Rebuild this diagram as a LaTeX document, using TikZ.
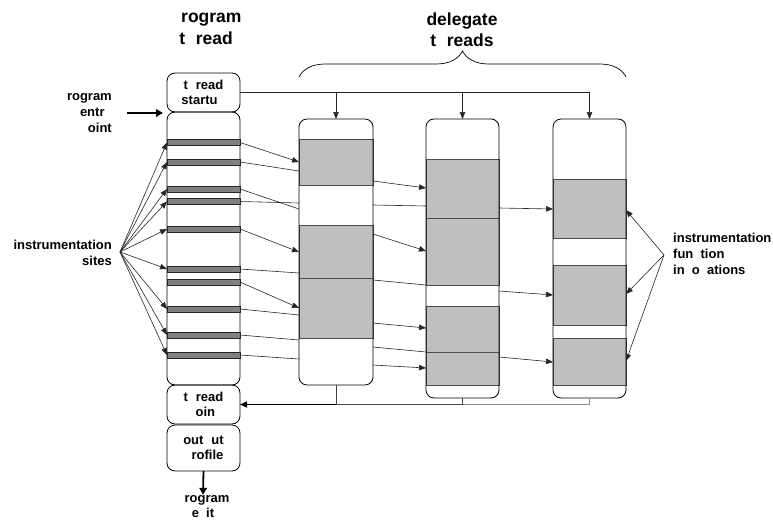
\documentclass[tikz,border=0pt]{standalone}
\usepackage{fontspec}
\setmainfont{Liberation Sans}
\usetikzlibrary{arrows.meta,decorations.pathreplacing}
\newcommand\gapw[1]{\hbox to #1em{}}
\begin{document}
\begin{tikzpicture}[x=1pt,y=-1pt,
  lbl/.style={font=\fontsize{13}{15.8}\selectfont\bfseries, inner sep=0pt},
  ttl/.style={font=\fontsize{17.5}{21.5}\selectfont\bfseries, inner sep=0pt, align=center},
  colbox/.style={draw=black, line width=0.8pt, rounded corners=8pt, minimum width=73pt, inner sep=0pt, outer sep=0pt, align=center, font=\fontsize{13}{15.5}\selectfont\bfseries},
  delbox/.style={draw=black, line width=0.8pt, rounded corners=8pt, inner sep=0pt, outer sep=0pt},
  bar/.style={draw=black!85, fill=black!50, line width=0.6pt, minimum width=73pt, minimum height=6pt, inner sep=0pt, outer sep=0pt},
  seg/.style={fill=black!25, draw=black!70, line width=0.6pt},
  conn/.style={draw=black!85, line width=0.6pt},
  arr/.style={conn, -{Triangle[length=7pt,width=5.5pt]}},
  bigarr/.style={line width=1.8pt, -{Triangle[length=7pt,width=7.5pt]}}
]
\useasboundingbox (0,0) rectangle (773,519);

% titles
\node[ttl] (t1) at (206,29) {\gapw{.611}rogram\\t\gapw{.611}read};
\node[ttl] (t2) at (462,29.5) {delegate\\t\gapw{.611}reads};
\draw[line width=0.7pt, decorate, decoration={brace, amplitude=26pt}] (299,77) -- (626,77);

% gray segments of delegate threads
\draw[seg] (299,139) rectangle (373,185);
\draw[seg] (299,225) rectangle (373,278);
\draw[seg] (299,278) rectangle (373,338);
\draw[seg] (426,159) rectangle (499,218);
\draw[seg] (426,218) rectangle (499,285);
\draw[seg] (426,306) rectangle (499,352);
\draw[seg] (426,352) rectangle (499,385);
\draw[seg] (553,179) rectangle (626,238);
\draw[seg] (553,265) rectangle (626,325);
\draw[seg] (553,338) rectangle (626,385);

% delegate thread columns
\node[delbox, minimum width=74pt, minimum height=266pt] (d1) at (336,252) {};
\node[delbox, minimum width=73pt, minimum height=279pt] (d2) at (462.5,258.5) {};
\node[delbox, minimum width=73pt, minimum height=279pt] (d3) at (589.5,258.5) {};

% program thread column
\node[colbox, minimum height=39pt] (start) at (203.5,92.5) {t\gapw{.611}read\\startu\gapw{.611}};
\node[colbox, minimum height=273pt] (main) at (203.5,248.5) {};
\node[colbox, minimum height=39pt] (join) at (203.5,404.5) {t\gapw{.611}read\\\gapw{.278}oin};
\node[colbox, minimum height=46pt] (prof) at (203.5,448) {out\gapw{.611}ut\\\gapw{.611}rofile};

% instrumentation bars
\node[bar] (b1) at (203.5,142.5) {};
\node[bar] (b2) at (203.5,162) {};
\node[bar] (b3) at (203.5,189) {};
\node[bar] (b4) at (203.5,201.5) {};
\node[bar] (b5) at (203.5,229) {};
\node[bar] (b6) at (203.5,269) {};
\node[bar] (b7) at (203.5,282) {};
\node[bar] (b8) at (203.5,309) {};
\node[bar] (b9) at (203.5,335) {};
\node[bar] (b10) at (203.5,355) {};

% labels
\node[lbl, align=right, anchor=east] (entry) at (112,113) {\gapw{.611}rogram\\entr\gapw{.556}\\\gapw{.611}oint};
\node[lbl, align=right, anchor=east] (sites) at (112,253) {instrumentation\\sites};
\coordinate (src) at (120,252);
\node[lbl, align=left, anchor=west] (inv) at (673,254) {instrumentation\\fun\gapw{.556}tion\\in\gapw{.556}o\gapw{.556}ations};
\coordinate (isrc) at (664,255);
\node[lbl, align=center] (exit) at (203,506.5) {\gapw{.611}rogram\\e\gapw{.556}it};

% program entry / exit
\coordinate (entryA) at (127,113);
\draw[bigarr] (entryA) -- (163,113);
\draw[bigarr] (prof.south) -- (exit.north);

% instrumentation site arrows
\foreach \b in {b1,b2,b3,b4,b5,b6,b8,b9,b10}
  \draw[arr] (src) -- (\b.west);

% invocation arrows
\draw[arr] (isrc) -- (d3.east |- 0,210);
\draw[arr] (isrc) -- (d3.east |- 0,294);
\draw[arr] (isrc) -- (d3.east |- 0,361);

% thread startup
\draw[conn] (start.east) -- (d3.north |- start.east);
\draw[arr] (d1.north |- start.east) -- (d1.north);
\draw[arr] (d2.north |- start.east) -- (d2.north);
\draw[arr] (d3.north |- start.east) -- (d3.north);

% program -> delegate 1
\draw[arr]  (b1.east) -- (d1.west |- 0,162);
\draw[conn] (b2.east) -- (d1.west |- 0,171);
\draw[conn] (b3.east) -- (d1.west |- 0,209);
\draw[conn] (b4.east) -- (d1.west |- 0,203);
\draw[arr]  (b5.east) -- (d1.west |- 0,252);
\draw[conn] (b6.east) -- (d1.west |- 0,273);
\draw[arr]  (b7.east) -- (d1.west |- 0,308);
\draw[conn] (b8.east) -- (d1.west |- 0,315);
\draw[conn] (b9.east) -- (d1.west |- 0,340);
\draw[conn] (b10.east) -- (d1.west |- 0,359);

% delegate 1 -> delegate 2
\draw[arr]  (d1.east |- 0,181) -- (d2.west |- 0,188);
\draw[conn] (d1.east |- 0,205) -- (d2.west |- 0,206);
\draw[arr]  (d1.east |- 0,234) -- (d2.west |- 0,251);
\draw[conn] (d1.east |- 0,280) -- (d2.west |- 0,285);
\draw[arr]  (d1.east |- 0,323) -- (d2.west |- 0,328);
\draw[conn] (d1.east |- 0,347) -- (d2.west |- 0,352);
\draw[arr]  (d1.east |- 0,365) -- (d2.west |- 0,368);

% delegate 2 -> delegate 3
\draw[arr] (d2.east |- 0,208) -- (d3.west |- 0,209);
\draw[arr] (d2.east |- 0,291) -- (d3.west |- 0,295);
\draw[arr] (d2.east |- 0,357) -- (d3.west |- 0,362);

% thread join
\draw[black!75, line width=0.7pt] (d1.south) -- (d1.south |- join.east);
\draw[black!75, line width=0.7pt] (d2.south) -- (d2.south |- join.east);
\draw[black!45, line width=0.9pt] (d3.south) -- (d3.south |- join.east) -- (d2.south |- join.east);
\draw[black!70, line width=1.1pt] (d2.south |- join.east) -- (d1.south |- join.east);
\draw[black, line width=1.1pt, -{Triangle[length=7pt,width=6pt]}] (d1.south |- join.east) -- (join.east);
\end{tikzpicture}
\end{document}
